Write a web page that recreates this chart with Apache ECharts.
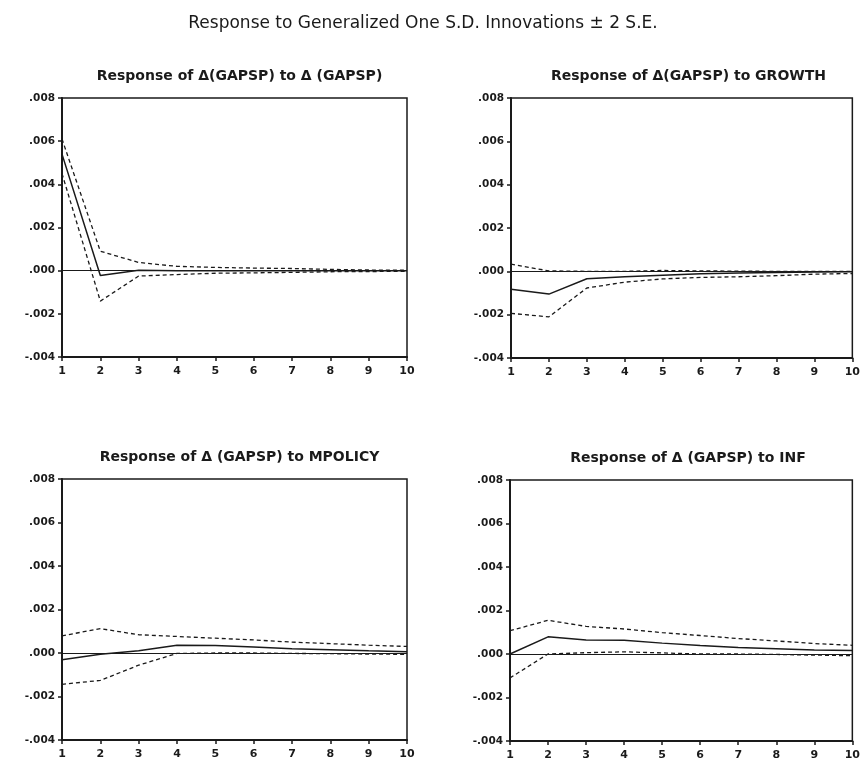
<!DOCTYPE html>
<html>
<head>
<meta charset="utf-8">
<script src="https://cdn.jsdelivr.net/npm/echarts@6/dist/echarts.min.js"></script>
<style>
  html, body { margin: 0; padding: 0; background: #fff; }
  #irf { width: 863px; height: 762px; }
</style>
</head>
<body>
<div id="irf"></div>
<script>
  // periods on the x axis
  const periods = [1, 2, 3, 4, 5, 6, 7, 8, 9, 10];

  const panelTitles = [
    'Response of \u0394(GAPSP) to \u0394 (GAPSP)',
    'Response of \u0394(GAPSP) to GROWTH',
    'Response of \u0394 (GAPSP) to MPOLICY',
    'Response of \u0394 (GAPSP) to INF'
  ];

  // response of d(gapsp) to d(gapsp)
  const gapspMid = [0.0054, -0.00022, 0.00002, 0.0, 0.0, 0.0, 0.0, 0.0, 0.0, 0.0];
  const gapspUp  = [0.0061, 0.0009, 0.00038, 0.0002, 0.00015, 0.00012, 0.0001, 0.00006, 0.00003, 0.00002];
  const gapspLo  = [0.0045, -0.00141, -0.00025, -0.00018, -0.00012, -0.0001, -0.00008, -0.00005, -0.00004, -0.00003];

  // response to growth
  const growthMid = [-0.00083, -0.00105, -0.00034, -0.00025, -0.00018, -0.00011, -0.00008, -0.00005, -0.00003, -0.00002];
  const growthUp  = [0.00033, 0.00002, 0.0, 0.0, 0.00004, 0.00002, 0.00001, 0.0, 0.0, 0.0];
  const growthLo  = [-0.00194, -0.0021, -0.00077, -0.0005, -0.00035, -0.00028, -0.00025, -0.0002, -0.00013, -0.0001];

  // response to mpolicy
  const mpolMid = [-0.00031, -0.00006, 0.0001, 0.00036, 0.00035, 0.00028, 0.0002, 0.00015, 0.0001, 0.00006];
  const mpolUp  = [0.00079, 0.00112, 0.00084, 0.00076, 0.00068, 0.0006, 0.0005, 0.00043, 0.00036, 0.0003];
  const mpolLo  = [-0.00144, -0.00126, -0.00056, -0.00002, 0.0, 0.0, -0.00002, -0.00003, -0.00005, -0.00006];

  // response to inf
  const infMid = [0.0, 0.00079, 0.00064, 0.00063, 0.0005, 0.00039, 0.0003, 0.00024, 0.00018, 0.00016];
  const infUp  = [0.00107, 0.00155, 0.00127, 0.00115, 0.00098, 0.00085, 0.00071, 0.0006, 0.00048, 0.0004];
  const infLo  = [-0.0011, 0.0, 0.00006, 0.0001, 0.00005, 0.0, 0.0, -0.00002, -0.00005, -0.00008];

  const panels = [
    [gapspMid, gapspUp, gapspLo],
    [growthMid, growthUp, growthLo],
    [mpolMid, mpolUp, mpolLo],
    [infMid, infUp, infLo]
  ];

  const grids = [
    {left: 62, top: 98, width: 345, height: 259},
    {left: 511, top: 98, width: 345, height: 260},
    {left: 62, top: 479, width: 345, height: 261},
    {left: 510, top: 480, width: 346, height: 261}
  ];

  const ink = '#1a1a1a';
  const labelFont = 'DejaVu Sans';

  function pairs(vals) {
    return periods.map((p, i) => [p, vals[i]]);
  }

  function fmt(v) {
    return v.toFixed(3).replace('0.', '.');
  }

  let titles = [{
    text: 'Response to Generalized One S.D. Innovations \u00b1 2 S.E.',
    left: 418, top: 10, textAlign: 'center',
    textStyle: {fontFamily: labelFont, fontSize: 17, fontWeight: 'normal', color: ink}
  }];
  let xAxes = [], yAxes = [], series = [];

  grids.forEach((g, k) => {
    g.show = true;
    g.borderColor = ink;
    g.borderWidth = 1.5;
    titles.push({
      text: panelTitles[k],
      left: g.left + g.width / 2, top: g.top - 34, textAlign: 'center',
      textStyle: {fontFamily: labelFont, fontSize: 14, fontWeight: 'bold', color: ink}
    });
    xAxes.push({
      gridIndex: k, type: 'value', min: 1, max: 10, interval: 1,
      axisLine: {onZero: false, lineStyle: {color: ink, width: 2}},
      axisTick: {length: 4, lineStyle: {color: ink, width: 1.5}},
      axisLabel: {margin: 9, fontFamily: labelFont, fontSize: 11, fontWeight: 'bold', color: ink},
      splitLine: {show: false}
    });
    yAxes.push({
      gridIndex: k, type: 'value', min: -0.004, max: 0.008, interval: 0.002,
      axisLine: {show: true, onZero: false, lineStyle: {color: ink, width: 2}},
      axisTick: {show: true, length: 4, lineStyle: {color: ink, width: 1.5}},
      axisLabel: {margin: 7, fontFamily: labelFont, fontSize: 10.5, fontWeight: 'bold', color: ink, formatter: fmt},
      splitLine: {show: false}
    });
    const [mid, up, lo] = panels[k];
    series.push({
      type: 'line', xAxisIndex: k, yAxisIndex: k, data: pairs(mid),
      symbol: 'none', lineStyle: {color: ink, width: 1.5},
      markLine: {
        silent: true, symbol: 'none', label: {show: false},
        lineStyle: {color: ink, width: 1.2, type: 'solid'},
        data: [{yAxis: 0}]
      }
    });
    [up, lo].forEach(band => {
      series.push({
        type: 'line', xAxisIndex: k, yAxisIndex: k, data: pairs(band),
        symbol: 'none', lineStyle: {color: ink, width: 1.3, type: [4, 3]}
      });
    });
  });

  let chart = echarts.init(document.getElementById('irf'));
  chart.setOption({
    animation: false,
    backgroundColor: '#fff',
    title: titles,
    grid: grids,
    xAxis: xAxes,
    yAxis: yAxes,
    series: series
  });
</script>
</body>
</html>
